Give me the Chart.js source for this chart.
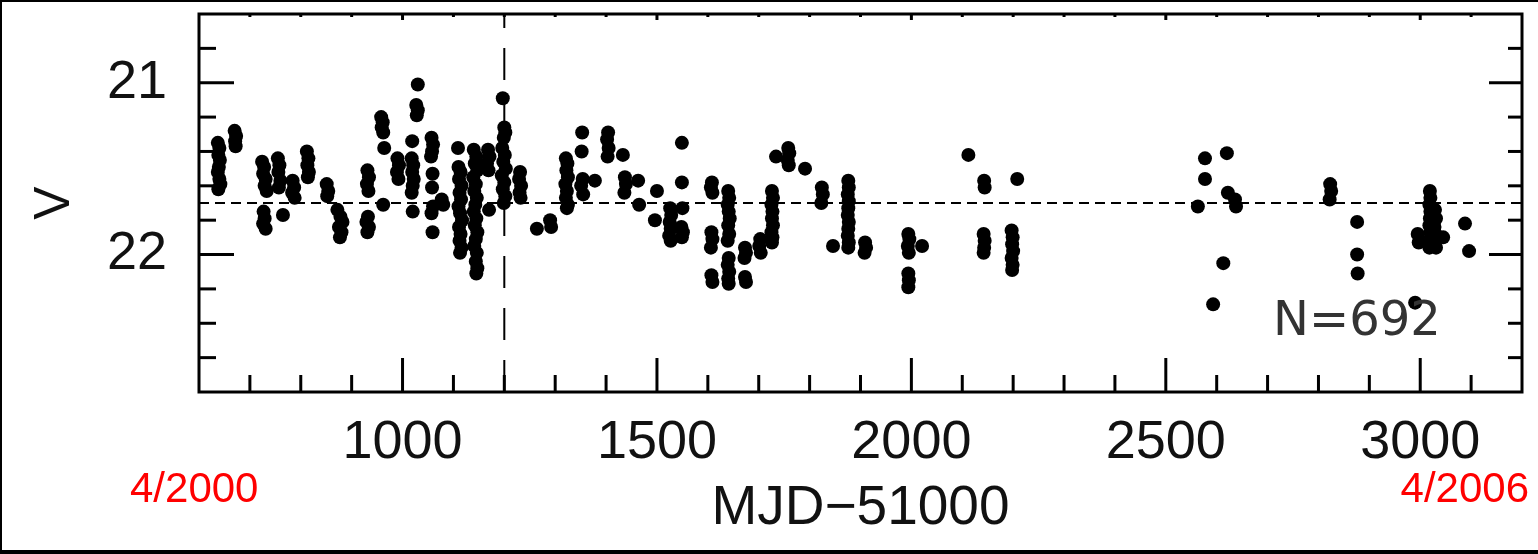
<!DOCTYPE html>
<html>
<head>
<meta charset="utf-8">
<script src="https://cdn.jsdelivr.net/npm/chart.js@4.4.1/dist/chart.umd.min.js"></script>
<style>
html, body { margin: 0; padding: 0; background: #fff; }
#wrap { width: 1538px; height: 554px; position: relative; }
</style>
</head>
<body>
<div id="wrap"><canvas id="chart" width="1538" height="554"></canvas></div>
<script>
// V-band light curve, MJD-51000 vs V magnitude (scatter, reversed y)

// observations as [MJD-51000, V], grouped by observing season
const obs2000 = [
  [637,21.35],[640,21.38],[638,21.42],[641,21.45],[639,21.49],[637,21.52],[640,21.56],[642,21.59],[638,21.62],
  [670,21.28],[673,21.31],[671,21.34],[672,21.37],
  [724,21.46],[728,21.49],[726,21.53],[731,21.56],[729,21.60],[733,21.63],[727,21.75],[729,21.79],[726,21.82],[731,21.85],
  [755,21.44],[758,21.48],[756,21.52],[760,21.57],[757,21.61],[765,21.77],
  [784,21.57],[787,21.61],[783,21.64],[788,21.67],
  [812,21.40],[815,21.44],[813,21.48],[816,21.52],[814,21.55],
  [851,21.59],[854,21.63],[852,21.66],
  [872,21.74],[878,21.78],[882,21.81],[875,21.84],[880,21.87],[877,21.90],
  [931,21.51],[934,21.55],[930,21.59],[933,21.63],[932,21.78],[929,21.81],[934,21.84],[931,21.87]
];
const obs2001 = [
  [958,21.20],[961,21.23],[959,21.26],[962,21.29],[964,21.38],[962,21.71],
  [990,21.44],[993,21.48],[989,21.52],[992,21.56],
  [1030,21.01],[1027,21.13],[1030,21.16],[1028,21.19],[1019,21.34],[1018,21.44],[1021,21.48],[1019,21.52],[1022,21.56],[1020,21.60],[1018,21.64],[1020,21.75],
  [1057,21.32],[1060,21.36],[1058,21.40],[1056,21.43],[1059,21.53],[1058,21.61],[1060,21.72],[1057,21.76],[1059,21.87],[1077,21.68],[1080,21.71],
  [1109,21.38],[1110,21.49],[1114,21.52],[1111,21.56],[1116,21.60],[1112,21.64],[1115,21.68],[1110,21.72],[1113,21.76],[1117,21.80],[1111,21.84],[1114,21.88],[1112,21.92],[1116,21.96],[1113,21.99],
  [1140,21.39],[1145,21.43],[1142,21.47],[1147,21.51],[1139,21.55],[1144,21.59],[1141,21.63],[1146,21.67],[1143,21.71],[1140,21.75],[1145,21.79],[1142,21.83],[1147,21.87],[1144,21.91],[1141,21.95],[1146,21.99],[1144,22.04],[1147,22.08],[1145,22.11],
  [1168,21.39],[1171,21.43],[1166,21.47],[1169,21.51],[1170,21.74],
  [1197,21.09],[1200,21.26],[1202,21.29],[1199,21.32],[1196,21.38],[1201,21.42],[1198,21.46],[1203,21.50],[1195,21.54],[1200,21.58],[1197,21.62],[1202,21.66],[1199,21.70],
  [1231,21.52],[1229,21.56],[1233,21.60],[1230,21.64],[1232,21.67],
  [1264,21.85],[1290,21.80],[1292,21.84],
  [1321,21.44],[1324,21.47],[1322,21.51],[1325,21.55],[1320,21.59],[1323,21.63],[1321,21.67],[1325,21.71],[1323,21.73]
];
const obs2002 = [
  [1353,21.29],[1352,21.40],[1354,21.56],[1351,21.60],[1355,21.65],[1378,21.57],
  [1404,21.29],[1402,21.33],[1405,21.38],[1403,21.43],
  [1433,21.42],[1437,21.55],[1439,21.59],[1436,21.64],[1463,21.57],[1465,21.71],
  [1500,21.63],[1496,21.80],
  [1526,21.73],[1528,21.77],[1525,21.81],[1527,21.85],[1524,21.89],[1527,21.92],
  [1549,21.35],[1549,21.58],[1550,21.73],[1548,21.84],[1551,21.87],[1549,21.90],
  [1608,21.58],[1606,21.61],[1609,21.64],[1607,21.87],[1609,21.91],[1606,21.96],[1607,22.12],[1609,22.16],
  [1640,21.63],[1642,21.67],[1639,21.71],[1641,21.75],[1643,21.79],[1640,21.83],[1642,21.88],[1639,21.92],[1641,22.02],[1639,22.06],[1642,22.10],[1640,22.14],[1641,22.17],
  [1673,21.96],[1675,21.99],[1672,22.02],[1673,22.13],[1675,22.16],
  [1703,21.91],[1701,21.95],[1704,21.99],
  [1726,21.63],[1728,21.67],[1725,21.71],[1727,21.75],[1726,21.79],[1728,21.83],[1725,21.87],[1727,21.90],[1726,21.93],[1734,21.43]
];
const obs2003 = [
  [1758,21.38],[1760,21.41],[1757,21.45],[1759,21.48],[1791,21.50],
  [1824,21.61],[1826,21.65],[1823,21.70],[1846,21.95],
  [1876,21.57],[1877,21.61],[1875,21.65],[1877,21.69],[1876,21.73],[1875,21.77],[1877,21.81],[1876,21.85],[1875,21.89],[1877,21.93],[1876,21.96],
  [1909,21.93],[1911,21.96],[1908,21.99],
  [1994,21.88],[1996,21.91],[1993,21.95],[1995,21.99],[1994,22.11],[1995,22.15],[1994,22.19],[2021,21.95],
  [2112,21.42],
  [2143,21.57],[2144,21.61],[2142,21.88],[2144,21.92],[2143,21.96],[2142,21.99],
  [2208,21.56],[2197,21.86],[2199,21.90],[2198,21.94],[2200,21.98],[2197,22.02],[2199,22.06],[2198,22.09]
];
const obs2005 = [
  [2577,21.44],[2577,21.56],[2563,21.72],
  [2620,21.41],[2622,21.64],[2636,21.68],[2638,21.72],[2613,22.05],[2593,22.29]
];
const obs2006 = [
  [2823,21.59],[2825,21.63],[2822,21.68],
  [2876,21.81],[2876,22.00],[2877,22.11],
  [2990,22.28],[2995,21.88],[2997,21.93],
  [3019,21.63],[3020,21.67],[3018,21.71],[3020,21.75],[3019,21.79],[3018,21.83],[3020,21.87],[3019,21.91],[3018,21.96],
  [3029,21.74],[3031,21.79],[3028,21.84],[3030,21.88],[3029,21.92],[3031,21.96],
  [3045,21.90],[3088,21.82],[3096,21.98]
];

const xTickLabels = [1000, 1500, 2000, 2500, 3000];
const yTickLabels = [21, 22];
const meanV = 21.70;      // horizontal dashed line
const markerMJD = 1200;   // vertical dashed line
const nLabel = 'N=692';
const dateLeft = '4/2000', dateRight = '4/2006';

const FONT = '"Liberation Sans", Arial, sans-serif';

const allObs = [].concat(obs2000, obs2001, obs2002, obs2003, obs2005, obs2006)
  .map(([x, y]) => ({ x, y }));

const framePlugin = {
  id: 'frame',
  beforeDatasetsDraw(chart) {
    const { ctx, chartArea: a, scales: { x, y } } = chart;
    ctx.save();
    ctx.strokeStyle = '#000';
    // mean level
    ctx.lineWidth = 2;
    ctx.setLineDash([10, 6]);
    const py = y.getPixelForValue(meanV);
    ctx.beginPath(); ctx.moveTo(a.left, py); ctx.lineTo(a.right, py); ctx.stroke();
    // marker date, dashes drawn from the bottom up
    ctx.setLineDash([32, 20]);
    const px = x.getPixelForValue(markerMJD);
    ctx.beginPath(); ctx.moveTo(px, a.bottom); ctx.lineTo(px, a.top); ctx.stroke();
    ctx.restore();
  },
  afterDatasetsDraw(chart) {
    const { ctx, chartArea: a, scales: { x, y } } = chart;
    const line = (x1, y1, x2, y2) => { ctx.beginPath(); ctx.moveTo(x1, y1); ctx.lineTo(x2, y2); ctx.stroke(); };
    ctx.save();
    ctx.strokeStyle = '#000';
    ctx.lineWidth = 3;
    ctx.strokeRect(a.left, a.top, a.right - a.left, a.bottom - a.top);
    // inward ticks
    for (let v = 700; v <= 3100; v += 100) {
      const p = x.getPixelForValue(v);
      const major = v % 500 === 0;
      line(p, a.bottom, p, a.bottom - (major ? 34 : 17));
      line(p, a.top, p, a.top + (major ? 6 : 3));
    }
    for (let i = 104; i <= 113; i++) {
      const v = i / 5;
      const p = y.getPixelForValue(v);
      const major = i % 5 === 0;
      line(a.left, p, a.left + (major ? 35 : 17), p);
      line(a.right, p, a.right - (major ? 33 : 14), p);
    }
    // count label
    ctx.font = '48px "DejaVu Sans", sans-serif';
    ctx.fillStyle = '#333';
    ctx.textAlign = 'left';
    ctx.textBaseline = 'alphabetic';
    ctx.fillText(nLabel, 1273, 335);
    // red date notes
    ctx.font = '42px ' + FONT;
    ctx.fillStyle = '#ff0000';
    ctx.fillText(dateLeft, 130, 502);
    ctx.textAlign = 'right';
    ctx.fillText(dateRight, 1529, 502);
    // page border
    ctx.fillStyle = '#000';
    ctx.fillRect(0, 0, 1538, 2);
    ctx.fillRect(0, 0, 2, 554);
    ctx.fillRect(0, 550, 1538, 4);
    ctx.restore();
  }
};

new Chart(document.getElementById('chart').getContext('2d'), {
  type: 'scatter',
  data: {
    datasets: [{
      data: allObs,
      backgroundColor: '#000',
      borderWidth: 0,
      pointRadius: 7,
      pointHoverRadius: 7
    }]
  },
  options: {
    responsive: false,
    animation: false,
    layout: { padding: { left: 0, right: 16, top: 14, bottom: 0 } },
    plugins: { legend: { display: false }, tooltip: { enabled: false } },
    scales: {
      x: {
        type: 'linear', min: 600, max: 3200,
        afterBuildTicks: s => { s.ticks = xTickLabels.map(v => ({ value: v })); },
        afterFit: s => { s.height = 162; s.paddingLeft = 0; s.paddingRight = 0; },
        grid: { display: false, drawTicks: false },
        border: { display: false },
        ticks: { font: { family: FONT, size: 54 }, color: '#111', padding: 19, maxRotation: 0, autoSkip: false, callback: v => String(v) },
        title: { display: true, text: 'MJD\u221251000', font: { family: FONT, size: 55 }, color: '#111', padding: { top: 0, bottom: 12 } }
      },
      y: {
        type: 'linear', reverse: true, min: 20.6, max: 22.8,
        afterBuildTicks: s => { s.ticks = yTickLabels.map(v => ({ value: v })); },
        afterFit: s => { s.width = 199; s.paddingTop = 0; s.paddingBottom = 0; },
        grid: { display: false, drawTicks: false },
        border: { display: false },
        ticks: { font: { family: FONT, size: 54 }, color: '#111', padding: 32, callback: v => String(v) },
        title: { display: true, text: 'V', font: { family: FONT, size: 50 }, color: '#111', padding: { top: 25, bottom: 0 } }
      }
    }
  },
  plugins: [framePlugin]
});
</script>
</body>
</html>
